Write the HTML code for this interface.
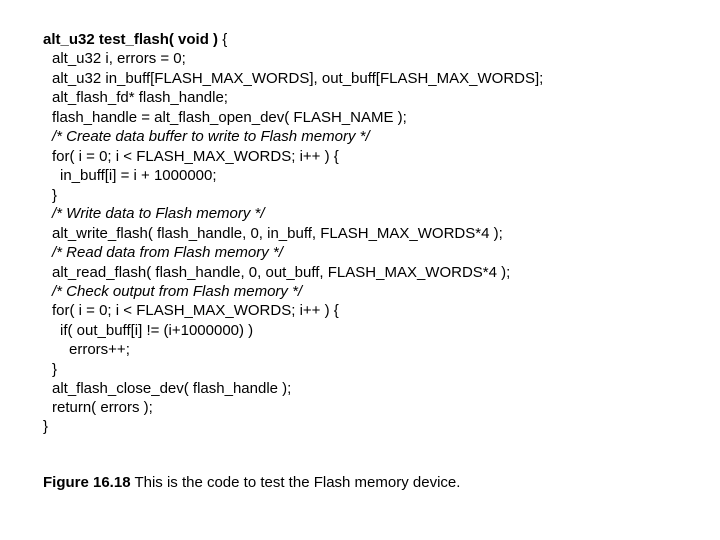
<!DOCTYPE html>
<html><head><style>
body{margin:0;width:720px;height:540px;background:#fff;position:relative;overflow:hidden;font-family:"Liberation Sans",Arial,sans-serif;font-size:15px;color:#000}
div{position:absolute;white-space:pre;line-height:18px}
i{font-style:italic}
</style></head><body>
<div style="left:43px;top:31px"><b>alt_u32 test_flash( void )</b> {</div>
<div style="left:52px;top:50px">alt_u32 i, errors = 0;</div>
<div style="left:52px;top:70px">alt_u32 in_buff[FLASH_MAX_WORDS], out_buff[FLASH_MAX_WORDS];</div>
<div style="left:52px;top:89px">alt_flash_fd* flash_handle;</div>
<div style="left:52px;top:109px">flash_handle = alt_flash_open_dev( FLASH_NAME );</div>
<div style="left:52px;top:128px"><i>/* Create data buffer to write to Flash memory */</i></div>
<div style="left:52px;top:148px">for( i = 0; i &lt; FLASH_MAX_WORDS; i++ ) {</div>
<div style="left:60px;top:167px">in_buff[i] = i + 1000000;</div>
<div style="left:52px;top:187px">}</div>
<div style="left:52px;top:205px"><i>/* Write data to Flash memory */</i></div>
<div style="left:52px;top:225px">alt_write_flash( flash_handle, 0, in_buff, FLASH_MAX_WORDS*4 );</div>
<div style="left:52px;top:244px"><i>/* Read data from Flash memory */</i></div>
<div style="left:52px;top:264px">alt_read_flash( flash_handle, 0, out_buff, FLASH_MAX_WORDS*4 );</div>
<div style="left:52px;top:283px"><i>/* Check output from Flash memory */</i></div>
<div style="left:52px;top:302px">for( i = 0; i &lt; FLASH_MAX_WORDS; i++ ) {</div>
<div style="left:60px;top:322px">if( out_buff[i] != (i+1000000) )</div>
<div style="left:69px;top:341px">errors++;</div>
<div style="left:52px;top:361px">}</div>
<div style="left:52px;top:380px">alt_flash_close_dev( flash_handle );</div>
<div style="left:52px;top:399px">return( errors );</div>
<div style="left:43px;top:418px">}</div>
<div style="left:43px;top:474px"><b>Figure 16.18</b> This is the code to test the Flash memory device.</div>
</body></html>
